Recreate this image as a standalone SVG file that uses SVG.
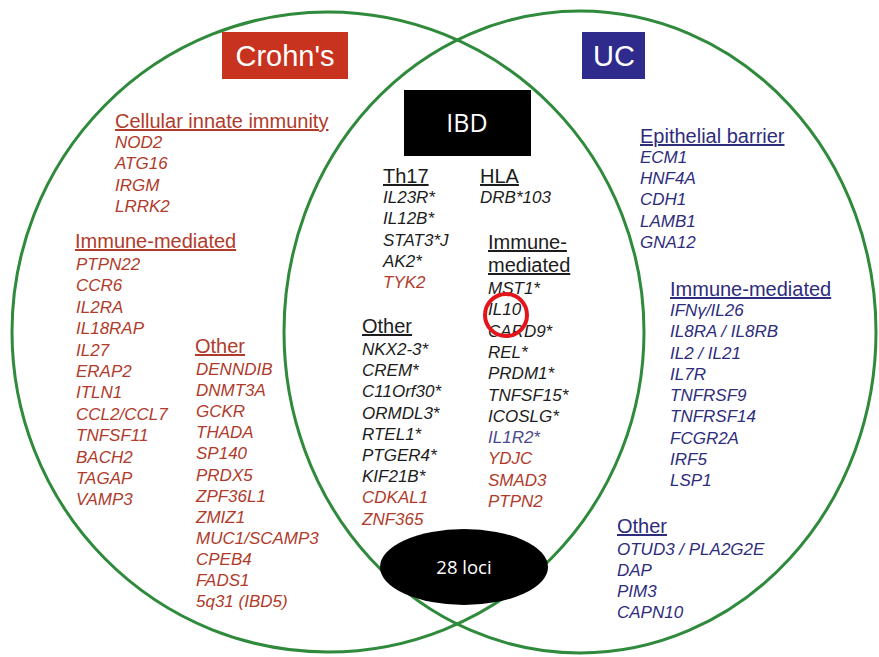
<svg xmlns="http://www.w3.org/2000/svg" width="879" height="657" viewBox="0 0 879 657">
<style>
text{font-family:"Liberation Sans",Arial,sans-serif}
.g{font-size:17px;font-style:italic}
.h{font-size:20px;text-decoration:underline}
.cd{fill:#b03b2b}
.uc{fill:#2e2c7c}
.bk{fill:#1c1c1c}
.circ{fill:none;stroke:#2f8a3c;stroke-width:3}
.lbl{fill:#fff;text-anchor:middle}
</style>
<rect width="879" height="657" fill="#fff"/>
<g id="connectors">
<ellipse id="crohns-set" class="circ" cx="328" cy="332" rx="316" ry="320"/>
<ellipse id="uc-set" class="circ" cx="580" cy="332" rx="296" ry="321"/>
</g>

<g id="crohns-innate">
<text class="h cd" x="115" y="128">Cellular innate immunity</text>
<text class="g cd"><tspan x="115" y="148">NOD2</tspan><tspan x="115" dy="21.3">ATG16</tspan><tspan x="115" dy="21.3">IRGM</tspan><tspan x="115" dy="21.3">LRRK2</tspan></text>
</g>
<g id="crohns-immune">
<text class="h cd" x="75" y="248">Immune-mediated</text>
<text class="g cd"><tspan x="76" y="270">PTPN22</tspan><tspan x="76" dy="21.4">CCR6</tspan><tspan x="76" dy="21.4">IL2RA</tspan><tspan x="76" dy="21.4">IL18RAP</tspan><tspan x="76" dy="21.4">IL27</tspan><tspan x="76" dy="21.4">ERAP2</tspan><tspan x="76" dy="21.4">ITLN1</tspan><tspan x="76" dy="21.4">CCL2/CCL7</tspan><tspan x="76" dy="21.4">TNFSF11</tspan><tspan x="76" dy="21.4">BACH2</tspan><tspan x="76" dy="21.4">TAGAP</tspan><tspan x="76" dy="21.4">VAMP3</tspan></text>
</g>
<g id="crohns-other">
<text class="h cd" x="195" y="353">Other</text>
<text class="g cd"><tspan x="196" y="375">DENNDIB</tspan><tspan x="196" dy="21.1">DNMT3A</tspan><tspan x="196" dy="21.1">GCKR</tspan><tspan x="196" dy="21.1">THADA</tspan><tspan x="196" dy="21.1">SP140</tspan><tspan x="196" dy="21.1">PRDX5</tspan><tspan x="196" dy="21.1">ZPF36L1</tspan><tspan x="196" dy="21.1">ZMIZ1</tspan><tspan x="196" dy="21.1">MUC1/SCAMP3</tspan><tspan x="196" dy="21.1">CPEB4</tspan><tspan x="196" dy="21.1">FADS1</tspan><tspan x="196" dy="21.1">5q31 (IBD5)</tspan></text>
</g>

<g id="ibd-th17">
<text class="h bk" x="383" y="183">Th17</text>
<text class="g bk"><tspan x="383" y="203">IL23R*</tspan><tspan x="383" dy="21.3">IL12B*</tspan><tspan x="383" dy="21.3">STAT3*J</tspan><tspan x="383" dy="21.3">AK2*</tspan><tspan x="383" dy="21.3" class="cd">TYK2</tspan></text>
</g>
<g id="ibd-hla">
<text class="h bk" x="480" y="183">HLA</text>
<text class="g bk" x="480" y="203">DRB*103</text>
</g>
<g id="ibd-immune">
<text class="h bk"><tspan x="488" y="249">Immune-</tspan><tspan x="488" dy="23">mediated</tspan></text>
<text class="g bk"><tspan x="488" y="294">MST1*</tspan><tspan x="488" dy="21.3">IL10</tspan><tspan x="488" dy="21.3">CARD9*</tspan><tspan x="488" dy="21.3">REL*</tspan><tspan x="488" dy="21.3">PRDM1*</tspan><tspan x="488" dy="21.3">TNFSF15*</tspan><tspan x="488" dy="21.3">ICOSLG*</tspan><tspan x="488" dy="21.3" fill="#4a4a8c">IL1R2*</tspan><tspan x="488" dy="21.3" class="cd">YDJC</tspan><tspan x="488" dy="21.3" class="cd">SMAD3</tspan><tspan x="488" dy="21.3" class="cd">PTPN2</tspan></text>
</g>
<g id="ibd-other">
<text class="h bk" x="362" y="333">Other</text>
<text class="g bk"><tspan x="362" y="355">NKX2-3*</tspan><tspan x="362" dy="21.2">CREM*</tspan><tspan x="362" dy="21.2">C11Orf30*</tspan><tspan x="362" dy="21.2">ORMDL3*</tspan><tspan x="362" dy="21.2">RTEL1*</tspan><tspan x="362" dy="21.2">PTGER4*</tspan><tspan x="362" dy="21.2">KIF21B*</tspan><tspan x="362" dy="21.2" class="cd">CDKAL1</tspan><tspan x="362" dy="21.2" class="cd">ZNF365</tspan></text>
</g>

<g id="uc-epithelial">
<text class="h uc" x="640" y="143">Epithelial barrier</text>
<text class="g uc"><tspan x="640" y="163">ECM1</tspan><tspan x="640" dy="21.2">HNF4A</tspan><tspan x="640" dy="21.2">CDH1</tspan><tspan x="640" dy="21.2">LAMB1</tspan><tspan x="640" dy="21.2">GNA12</tspan></text>
</g>
<g id="uc-immune">
<text class="h uc" x="670" y="296">Immune-mediated</text>
<text class="g uc"><tspan x="670" y="316">IFNγ/IL26</tspan><tspan x="670" dy="21.25">IL8RA / IL8RB</tspan><tspan x="670" dy="21.25">IL2 / IL21</tspan><tspan x="670" dy="21.25">IL7R</tspan><tspan x="670" dy="21.25">TNFRSF9</tspan><tspan x="670" dy="21.25">TNFRSF14</tspan><tspan x="670" dy="21.25">FCGR2A</tspan><tspan x="670" dy="21.25">IRF5</tspan><tspan x="670" dy="21.25">LSP1</tspan></text>
</g>
<g id="uc-other">
<text class="h uc" x="617" y="533">Other</text>
<text class="g uc"><tspan x="617" y="555">OTUD3 / PLA2G2E</tspan><tspan x="617" dy="21">DAP</tspan><tspan x="617" dy="21">PIM3</tspan><tspan x="617" dy="21">CAPN10</tspan></text>
</g>

<g id="crohns-label">
<rect x="222" y="32" width="126" height="47" fill="#c8331f"/>
<text class="lbl" x="285" y="66" font-size="29">Crohn's</text>
</g>
<g id="uc-label">
<rect x="582" y="32" width="63" height="47" fill="#2f2b8d"/>
<text class="lbl" x="614" y="66" font-size="29">UC</text>
</g>
<g id="ibd-label">
<rect x="404" y="90" width="127" height="66" fill="#000"/>
<text class="lbl" x="467" y="132" font-size="25" style="font-family:'Open Sans',sans-serif">IBD</text>
</g>
<g id="loci-label">
<ellipse cx="464" cy="567" rx="84" ry="38" fill="#000"/>
<text class="lbl" x="464" y="574" font-size="18.5" style="font-family:'Open Sans',sans-serif">28 loci</text>
</g>
<g id="il10-highlight">
<circle cx="506" cy="315" r="21" fill="none" stroke="#e3151b" stroke-width="4"/>
</g>
</svg>
